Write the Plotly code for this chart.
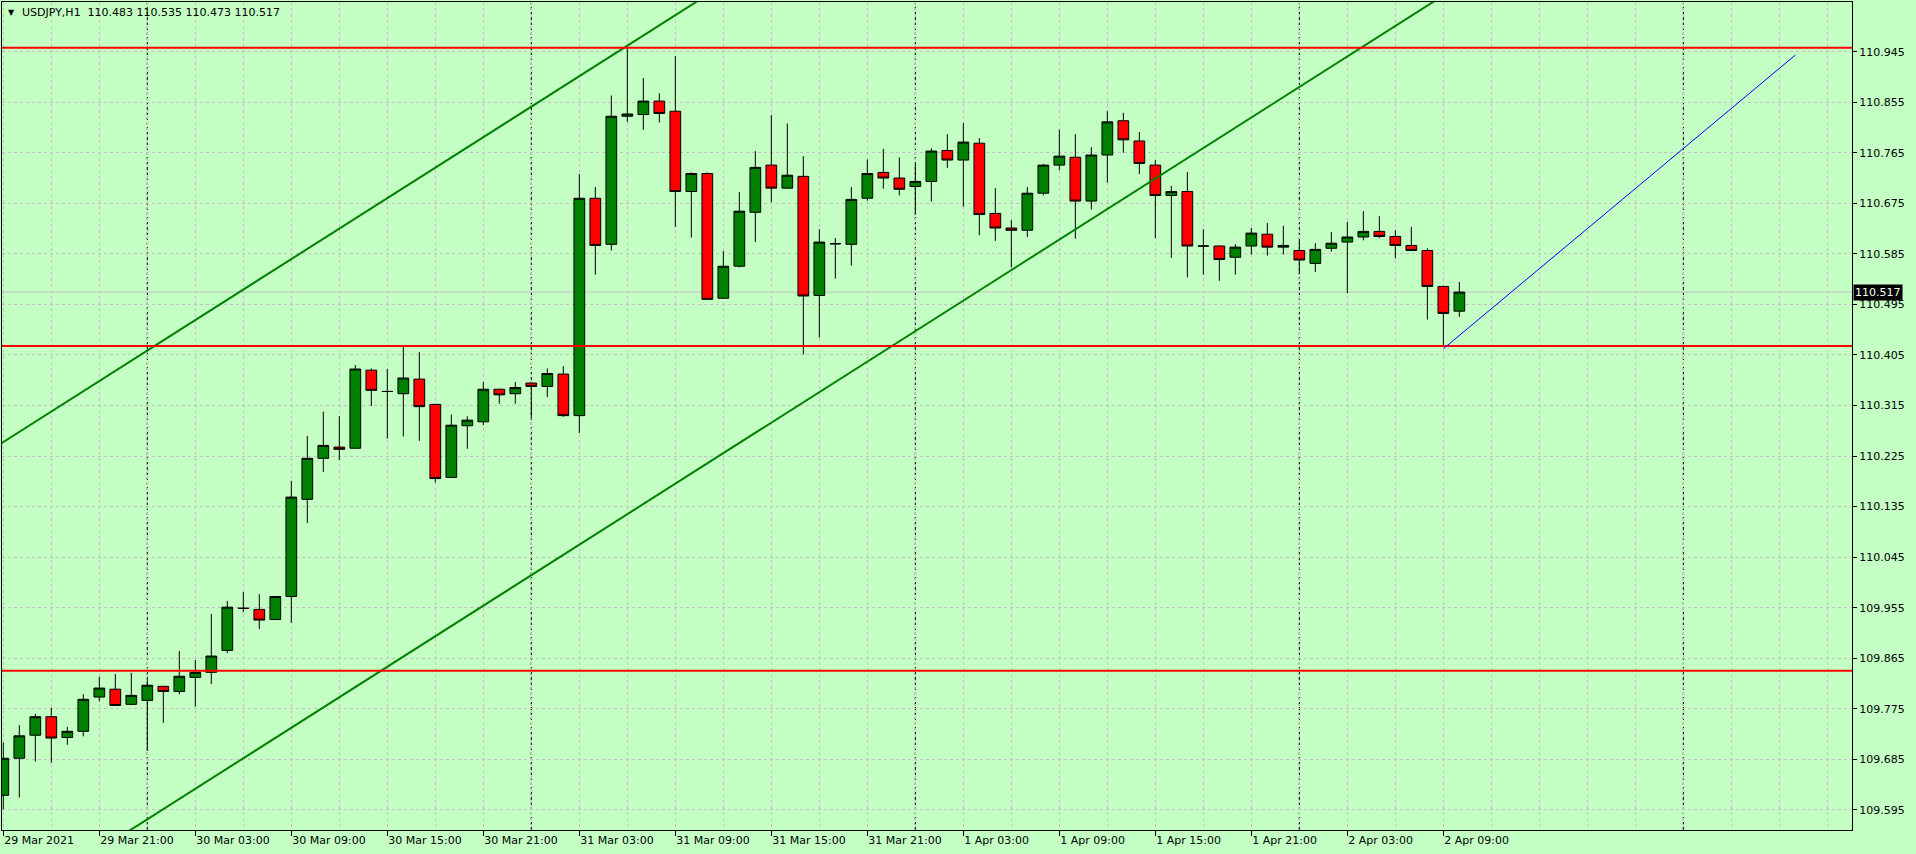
import plotly.graph_objects as go

# ---------------- data ----------------
symbol = "USDJPY,H1"

# bar index 0 = 29 Mar 2021 15:00, one bar per hour
bars = list(range(92))

opens = [109.621, 109.687, 109.728, 109.761, 109.724, 109.735, 109.796, 109.810, 109.783, 109.790,
         109.815, 109.806, 109.831, 109.840, 109.879, 109.954, 109.952, 109.934, 109.975, 110.148,
         110.221, 110.241, 110.239, 110.378, 110.340, 110.336, 110.362, 110.317, 110.187, 110.279,
         110.286, 110.344, 110.336, 110.355, 110.349, 110.371, 110.297, 110.684, 110.602, 110.830,
         110.833, 110.857, 110.839, 110.696, 110.728, 110.506, 110.563, 110.659, 110.743, 110.702,
         110.723, 110.511, 110.603, 110.602, 110.684, 110.730, 110.720, 110.705, 110.714, 110.769,
         110.752, 110.782, 110.657, 110.631, 110.627, 110.693, 110.743, 110.757, 110.679, 110.761,
         110.822, 110.786, 110.743, 110.689, 110.696, 110.599, 110.599, 110.579, 110.599, 110.620,
         110.597, 110.591, 110.568, 110.595, 110.606, 110.615, 110.625, 110.616, 110.600, 110.591,
         110.527, 110.483]
highs = [109.715, 109.746, 109.766, 109.777, 109.743, 109.801, 109.832, 109.837, 109.839, 109.826,
         109.816, 109.878, 109.862, 109.944, 109.967, 109.983, 109.979, 109.976, 110.181, 110.261,
         110.304, 110.296, 110.387, 110.381, 110.380, 110.421, 110.410, 110.318, 110.299, 110.296,
         110.357, 110.345, 110.357, 110.356, 110.381, 110.385, 110.727, 110.704, 110.867, 110.954,
         110.898, 110.871, 110.937, 110.730, 110.730, 110.590, 110.695, 110.768, 110.832, 110.817,
         110.759, 110.629, 110.613, 110.704, 110.753, 110.772, 110.757, 110.745, 110.773, 110.798,
         110.818, 110.791, 110.702, 110.645, 110.704, 110.745, 110.806, 110.798, 110.775, 110.839,
         110.836, 110.802, 110.752, 110.706, 110.731, 110.629, 110.600, 110.602, 110.631, 110.640,
         110.635, 110.610, 110.604, 110.624, 110.642, 110.661, 110.652, 110.627, 110.633, 110.595,
         110.528, 110.535]
lows = [109.596, 109.617, 109.681, 109.679, 109.711, 109.726, 109.788, 109.780, 109.782, 109.700,
        109.750, 109.801, 109.779, 109.819, 109.874, 109.947, 109.917, 109.933, 109.928, 110.106,
        110.197, 110.218, 110.238, 110.314, 110.256, 110.260, 110.252, 110.178, 110.186, 110.238,
        110.280, 110.318, 110.318, 110.292, 110.330, 110.295, 110.266, 110.548, 110.591, 110.820,
        110.806, 110.819, 110.633, 110.614, 110.503, 110.505, 110.561, 110.606, 110.677, 110.701,
        110.406, 110.436, 110.541, 110.564, 110.680, 110.701, 110.689, 110.655, 110.678, 110.738,
        110.669, 110.618, 110.608, 110.561, 110.615, 110.689, 110.734, 110.612, 110.664, 110.712,
        110.765, 110.727, 110.613, 110.578, 110.543, 110.548, 110.537, 110.548, 110.584, 110.582,
        110.584, 110.549, 110.553, 110.589, 110.515, 110.609, 110.613, 110.577, 110.591, 110.468,
        110.423, 110.473]
closes = [109.687, 109.727, 109.761, 109.723, 109.735, 109.792, 109.812, 109.781, 109.799, 109.817,
          109.806, 109.833, 109.840, 109.869, 109.956, 109.954, 109.933, 109.975, 110.152, 110.221,
          110.244, 110.237, 110.380, 110.342, 110.340, 110.364, 110.313, 110.185, 110.280, 110.289,
          110.344, 110.334, 110.347, 110.349, 110.372, 110.297, 110.684, 110.600, 110.830, 110.834,
          110.857, 110.835, 110.696, 110.728, 110.504, 110.563, 110.661, 110.739, 110.702, 110.725,
          110.510, 110.606, 110.603, 110.682, 110.728, 110.720, 110.700, 110.714, 110.768, 110.752,
          110.784, 110.655, 110.631, 110.627, 110.693, 110.743, 110.759, 110.679, 110.761, 110.820,
          110.788, 110.746, 110.689, 110.696, 110.599, 110.599, 110.575, 110.597, 110.622, 110.597,
          110.600, 110.574, 110.593, 110.604, 110.615, 110.625, 110.616, 110.600, 110.591, 110.527,
          110.479, 110.517]

# time-axis labels (bar index -> text)
xtick_bars = [0, 6, 12, 18, 24, 30, 36, 42, 48, 54, 60, 66, 72, 78, 84, 90]
xtick_labels = ["29 Mar 2021", "29 Mar 21:00", "30 Mar 03:00", "30 Mar 09:00", "30 Mar 15:00",
                "30 Mar 21:00", "31 Mar 03:00", "31 Mar 09:00", "31 Mar 15:00", "31 Mar 21:00",
                "1 Apr 03:00", "1 Apr 09:00", "1 Apr 15:00", "1 Apr 21:00", "2 Apr 03:00",
                "2 Apr 09:00"]
xgrid_bars = list(range(0, 117, 3))
day_separator_bars = [9, 33, 57, 81, 105]

ytick_labels = ["109.595", "109.685", "109.775", "109.865", "109.955", "110.045", "110.135",
                "110.225", "110.315", "110.405", "110.495", "110.585", "110.675", "110.765",
                "110.855", "110.945"]

# drawn objects
red_levels = [110.952, 110.421, 109.843]
channel_upper_bars = [0, 43]
channel_upper_prices = [110.250, 111.028]
channel_lower_bars = [20.8, 67.3]
channel_lower_prices = [109.792, 110.634]
blue_line_bars = [90, 112]
blue_line_prices = [110.416, 110.939]

# ---------------- styling ----------------
BG = "rgb(196,255,196)"
GRID = "#C4BEC4"
FONT = "DejaVu Sans"

x_range = [-0.081, 115.54]
y_range = [109.5593, 111.0334]

fig = go.Figure()

fig.add_trace(go.Candlestick(
    x=bars, open=opens, high=highs, low=lows, close=closes,
    increasing=dict(line=dict(color="black", width=1), fillcolor="#008000"),
    decreasing=dict(line=dict(color="black", width=1), fillcolor="#FF0000"),
    whiskerwidth=0, showlegend=False, hoverinfo="skip",
))


def extend(xs, ys, x0, x1):
    slope = (ys[1] - ys[0]) / (xs[1] - xs[0])
    return [x0, x1], [ys[0] + slope * (x0 - xs[0]), ys[0] + slope * (x1 - xs[0])]


for xs, ys in [(channel_upper_bars, channel_upper_prices), (channel_lower_bars, channel_lower_prices)]:
    ex, ey = extend(xs, ys, -2, 118)
    fig.add_trace(go.Scatter(x=ex, y=ey, mode="lines", line=dict(color="#008000", width=2),
                             showlegend=False, hoverinfo="skip"))

for lv in red_levels:
    fig.add_trace(go.Scatter(x=[-2, 118], y=[lv, lv], mode="lines", line=dict(color="#FF0000", width=2),
                             showlegend=False, hoverinfo="skip"))

fig.add_trace(go.Scatter(x=blue_line_bars, y=blue_line_prices, mode="lines",
                         line=dict(color="#0000FF", width=1), showlegend=False, hoverinfo="skip"))

shapes = []
for b in day_separator_bars:
    shapes.append(dict(type="line", xref="x", yref="paper", x0=b, x1=b, y0=0, y1=1,
                       line=dict(color="black", width=1, dash="3px,2px"), layer="between"))
last_close = closes[-1]
shapes.append(dict(type="line", xref="paper", yref="y", x0=0, x1=1, y0=last_close, y1=last_close,
                   line=dict(color="#C0C0C0", width=1), layer="between"))

title_text = f"{symbol}\u00a0 {opens[-1]:.3f} {highs[-1]:.3f} {lows[-1]:.3f} {closes[-1]:.3f}"

annotations = [
    dict(xref="paper", yref="paper", x=0, y=1, xanchor="left", yanchor="middle", xshift=4, yshift=-10,
         text="▼", showarrow=False, font=dict(family=FONT, size=8, color="black")),
    dict(xref="paper", yref="paper", x=0, y=1, xanchor="left", yanchor="middle", xshift=18, yshift=-10.5,
         text=title_text, showarrow=False, font=dict(family=FONT, size=11, color="black")),
    dict(xref="paper", yref="y", x=1, y=last_close, xanchor="left", yanchor="middle", xshift=1,
         text=f"{last_close:.3f}", showarrow=False, bgcolor="black", borderpad=1,
         font=dict(family=FONT, size=11, color="white")),
]

fig.update_layout(
    width=1916, height=854,
    margin=dict(l=2, r=64, t=2, b=24, pad=0),
    paper_bgcolor=BG, plot_bgcolor=BG,
    boxgap=0.33, boxgroupgap=0,
    hovermode=False,
    shapes=shapes, annotations=annotations,
    font=dict(family=FONT, size=11, color="black"),
    xaxis=dict(
        range=x_range, tickmode="array", tickvals=xtick_bars, ticktext=xtick_labels,
        ticks="outside", ticklen=5, tickcolor="black", tickwidth=1,
        ticklabelposition="outside right",
        showline=True, mirror=True, linecolor="black", linewidth=1,
        showgrid=True, gridcolor=GRID, griddash="3px,3px", gridwidth=1,
        zeroline=False, rangeslider=dict(visible=False),
        tickfont=dict(family=FONT, size=11, color="black"),
        minor=dict(tickmode="array", tickvals=xgrid_bars, ticks="", showgrid=True,
                   gridcolor=GRID, griddash="3px,3px", gridwidth=1),
    ),
    yaxis=dict(
        range=y_range, side="right", tickmode="array",
        tickvals=[float(t) for t in ytick_labels], ticktext=ytick_labels,
        ticks="outside", ticklen=4, tickcolor="black", tickwidth=1,
        showline=True, mirror=True, linecolor="black", linewidth=1,
        showgrid=True, gridcolor=GRID, griddash="3px,3px", gridwidth=1,
        zeroline=False,
        tickfont=dict(family=FONT, size=11, color="black"),
    ),
)

fig.write_html("out.html", config={"displayModeBar": False},
               post_script="document.body.style.margin='0px';document.body.style.overflow='hidden';")
